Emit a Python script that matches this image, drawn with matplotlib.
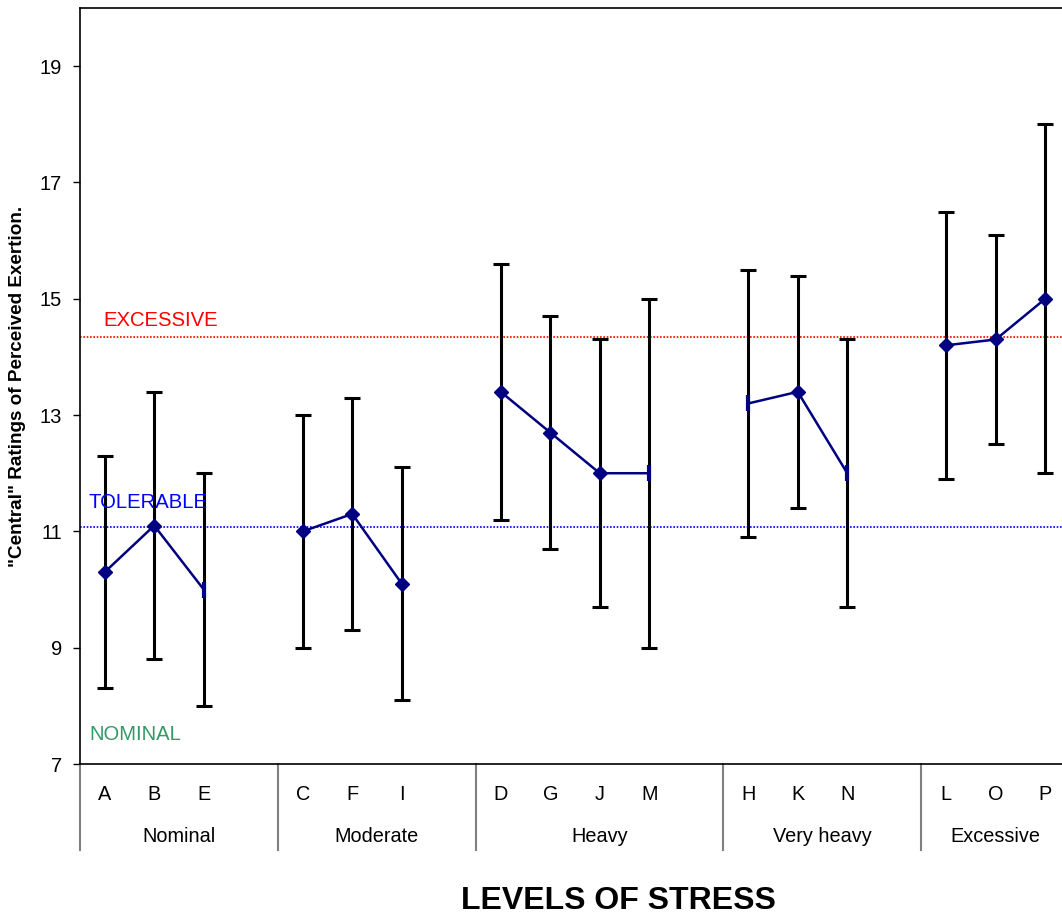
import matplotlib.pyplot as plt
from matplotlib.transforms import blended_transform_factory

plt.rcParams['font.family'] = ['Liberation Sans', 'DejaVu Sans']

# ---- data ----
groups = ['Nominal', 'Moderate', 'Heavy', 'Very heavy', 'Excessive']
group_members = [['A', 'B', 'E'], ['C', 'F', 'I'], ['D', 'G', 'J', 'M'],
                 ['H', 'K', 'N'], ['L', 'O', 'P']]
means = [[10.3, 11.1, 10.0], [11.0, 11.3, 10.1], [13.4, 12.7, 12.0, 12.0],
         [13.2, 13.4, 12.0], [14.2, 14.3, 15.0]]
lows = [[8.3, 8.8, 8.0], [9.0, 9.3, 8.1], [11.2, 10.7, 9.7, 9.0],
        [10.9, 11.4, 9.7], [11.9, 12.5, 12.0]]
highs = [[12.3, 13.4, 12.0], [13.0, 13.3, 12.1], [15.6, 14.7, 14.3, 15.0],
         [15.5, 15.4, 14.3], [16.5, 16.1, 18.0]]
# points drawn without the diamond in the original
plain_points = ['E', 'M', 'H', 'N']

excessive_level = 14.35
tolerable_level = 11.07

navy = '#000080'

fig = plt.figure(figsize=(10.62, 9.15), dpi=100)
ax = fig.add_axes([80 / 1062, 1 - 764 / 915, 990 / 1062, 756 / 915])

# positions: one empty slot after each group (except the last)
tick_pos, tick_lab, seps = [], [], [-0.5]
pos = 0
for gi, members in enumerate(group_members):
    xs = list(range(pos, pos + len(members)))
    pos += len(members)
    if gi < len(group_members) - 1:
        pos += 1
        seps.append(pos - 0.5)
    tick_pos += xs
    tick_lab += members

    m, lo, hi = means[gi], lows[gi], highs[gi]
    ax.errorbar(xs, m, yerr=[[a - b for a, b in zip(m, lo)], [b - a for a, b in zip(m, hi)]],
                fmt='none', ecolor='black', elinewidth=2.2, capsize=5.8, capthick=2.2, zorder=2)
    ax.plot(xs, m, color=navy, lw=1.8, zorder=3)
    for x, y, lab in zip(xs, m, members):
        if lab in plain_points:
            ax.plot(x, y, marker='|', ms=11, mew=3, color=navy, zorder=4)
        else:
            ax.plot(x, y, marker='D', ms=7.5, color=navy, zorder=4)

ax.axhline(excessive_level, color='#FF0000', lw=1.2, ls=(0, (1, 1)), zorder=1)
ax.axhline(tolerable_level, color='#0000FF', lw=1.2, ls=(0, (1, 1)), zorder=1)

ax.text(-0.02, 14.62, 'EXCESSIVE', color='#FF0000', fontsize=14.6, va='center', ha='left')
ax.text(-0.32, 11.5, 'TOLERABLE', color='#0000FF', fontsize=14.6, va='center', ha='left')
ax.text(-0.32, 7.5, 'NOMINAL', color='#339966', fontsize=14.6, va='center', ha='left')

ax.set_xlim(-0.5, 19.5)
ax.set_ylim(7, 20)
ax.set_yticks(range(7, 20, 2))
ax.tick_params(axis='y', direction='out', length=5, width=1, labelsize=14.5, pad=8)
ax.set_xticks(tick_pos)
ax.set_xticklabels(tick_lab, fontsize=14.3)
ax.tick_params(axis='x', length=0, pad=15)

for s in ['left', 'bottom', 'top']:
    ax.spines[s].set_linewidth(1.2)
ax.spines['right'].set_visible(False)

# group labels and separators below the axis
trans = blended_transform_factory(ax.transData, ax.transAxes)
group_bounds = seps + [19.5]
for gi, name in enumerate(groups):
    cx = (group_bounds[gi] + group_bounds[gi + 1]) / 2
    ax.text(cx, -72 / 756, name, transform=trans, fontsize=14.3, ha='center', va='center')
for sx in seps:
    ax.plot([sx, sx], [0, -86 / 756], transform=trans, color='#808080', lw=1.5,
            clip_on=False)

ax.set_ylabel('"Central" Ratings of Perceived Exertion.', fontsize=13.6,
              fontweight='bold', labelpad=10)
fig.text(618 / 1062, 1 - 901 / 915, 'LEVELS OF STRESS', fontsize=23,
         fontweight='bold', ha='center', va='center')

fig.savefig('out.png', dpi=100)
